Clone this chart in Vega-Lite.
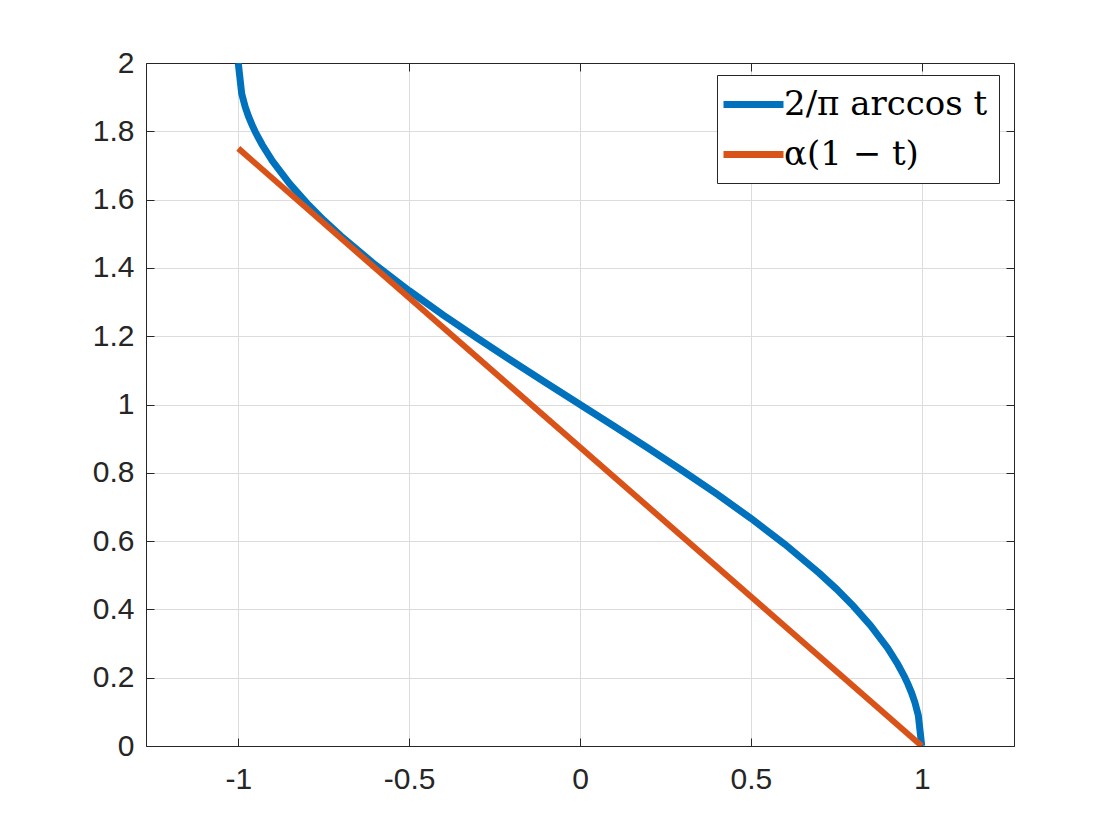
{
  "$schema": "https://vega.github.io/schema/vega-lite/v6.json",
  "width": 868,
  "height": 683,
  "autosize": {"type": "none"},
  "padding": {"left": 146, "top": 63, "right": 106, "bottom": 94},
  "background": "white",
  "config": {
    "view": {"stroke": null},
    "axis": {
      "labelFont": "Liberation Sans",
      "labelFontSize": 30,
      "labelColor": "#262626",
      "domainColor": "#262626",
      "domainWidth": 1,
      "tickColor": "#262626",
      "tickWidth": 1,
      "tickSize": -8,
      "gridColor": "#dcdcdc",
      "gridWidth": 1,
      "title": null
    },
    "legend": {
      "orient": "none",
      "legendX": 571,
      "legendY": 12,
      "fillColor": "white",
      "strokeColor": "#262626",
      "padding": 11,
      "symbolType": "M-2,0H2",
      "symbolSize": 900,
      "symbolStrokeWidth": 7,
      "symbolOffset": 7,
      "labelFont": "DejaVu Serif",
      "labelFontSize": 34,
      "labelLimit": 500,
      "labelColor": "#000000",
      "labelOffset": 12,
      "rowPadding": 14,
      "title": null
    }
  },
  "data": {
    "values": [
      {"t": -1.0, "y": 2.0, "f": "2/π arccos t"},
      {"t": -0.99, "y": 1.91013, "f": "2/π arccos t"},
      {"t": -0.98, "y": 1.87246, "f": "2/π arccos t"},
      {"t": -0.97, "y": 1.84367, "f": "2/π arccos t"},
      {"t": -0.96, "y": 1.81933, "f": "2/π arccos t"},
      {"t": -0.95, "y": 1.79784, "f": "2/π arccos t"},
      {"t": -0.93, "y": 1.76056, "f": "2/π arccos t"},
      {"t": -0.9, "y": 1.71287, "f": "2/π arccos t"},
      {"t": -0.85, "y": 1.6468, "f": "2/π arccos t"},
      {"t": -0.8, "y": 1.59033, "f": "2/π arccos t"},
      {"t": -0.75, "y": 1.5399, "f": "2/π arccos t"},
      {"t": -0.7, "y": 1.49364, "f": "2/π arccos t"},
      {"t": -0.6, "y": 1.40967, "f": "2/π arccos t"},
      {"t": -0.5, "y": 1.33333, "f": "2/π arccos t"},
      {"t": -0.4, "y": 1.26198, "f": "2/π arccos t"},
      {"t": -0.3, "y": 1.19397, "f": "2/π arccos t"},
      {"t": -0.2, "y": 1.12819, "f": "2/π arccos t"},
      {"t": -0.1, "y": 1.06377, "f": "2/π arccos t"},
      {"t": 0.0, "y": 1.0, "f": "2/π arccos t"},
      {"t": 0.1, "y": 0.93623, "f": "2/π arccos t"},
      {"t": 0.2, "y": 0.87181, "f": "2/π arccos t"},
      {"t": 0.3, "y": 0.80603, "f": "2/π arccos t"},
      {"t": 0.4, "y": 0.73802, "f": "2/π arccos t"},
      {"t": 0.5, "y": 0.66667, "f": "2/π arccos t"},
      {"t": 0.6, "y": 0.59033, "f": "2/π arccos t"},
      {"t": 0.7, "y": 0.50636, "f": "2/π arccos t"},
      {"t": 0.75, "y": 0.4601, "f": "2/π arccos t"},
      {"t": 0.8, "y": 0.40967, "f": "2/π arccos t"},
      {"t": 0.85, "y": 0.3532, "f": "2/π arccos t"},
      {"t": 0.9, "y": 0.28713, "f": "2/π arccos t"},
      {"t": 0.93, "y": 0.23944, "f": "2/π arccos t"},
      {"t": 0.95, "y": 0.20216, "f": "2/π arccos t"},
      {"t": 0.96, "y": 0.18067, "f": "2/π arccos t"},
      {"t": 0.97, "y": 0.15633, "f": "2/π arccos t"},
      {"t": 0.98, "y": 0.12754, "f": "2/π arccos t"},
      {"t": 0.99, "y": 0.08987, "f": "2/π arccos t"},
      {"t": 1.0, "y": 0.0, "f": "2/π arccos t"},
      {"t": -1.0, "y": 1.75, "f": "α(1 − t)"},
      {"t": 1.0, "y": 0.0, "f": "α(1 − t)"}
    ]
  },
  "layer": [
    {
      "transform": [{"filter": "datum.f === '2/π arccos t'"}],
      "mark": {"type": "line", "strokeWidth": 7, "clip": true},
      "encoding": {
        "x": {
          "field": "t", "type": "quantitative",
          "scale": {"domain": [-1.27, 1.27], "nice": false, "zero": false},
          "axis": {"orient": "bottom", "values": [-1, -0.5, 0, 0.5, 1], "grid": true, "labelPadding": 26, "labelExpr": "replace(format(datum.value, '~g'), '−', '-')"}
        },
        "y": {
          "field": "y", "type": "quantitative",
          "scale": {"domain": [0, 2], "nice": false, "zero": false},
          "axis": {"orient": "left", "values": [0, 0.2, 0.4, 0.6, 0.8, 1, 1.2, 1.4, 1.6, 1.8, 2], "grid": true, "labelPadding": 20, "labelExpr": "format(datum.value, '~g')"}
        },
        "color": {
          "field": "f", "type": "nominal",
          "scale": {"domain": ["2/π arccos t", "α(1 − t)"], "range": ["#0072BD", "#D95319"]}
        },
        "order": {"field": "t", "type": "quantitative"}
      }
    },
    {
      "transform": [{"filter": "datum.f === 'α(1 − t)'"}],
      "mark": {"type": "line", "strokeWidth": 6, "clip": true},
      "encoding": {
        "x": {
          "field": "t", "type": "quantitative",
          "axis": {"orient": "top", "values": [-1, -0.5, 0, 0.5, 1], "grid": false, "labels": false}
        },
        "y": {
          "field": "y", "type": "quantitative",
          "axis": {"orient": "right", "values": [0, 0.2, 0.4, 0.6, 0.8, 1, 1.2, 1.4, 1.6, 1.8, 2], "grid": false, "labels": false}
        },
        "color": {"field": "f", "type": "nominal"},
        "order": {"field": "t", "type": "quantitative"}
      }
    }
  ],
  "resolve": {"axis": {"x": "independent", "y": "independent"}}
}
